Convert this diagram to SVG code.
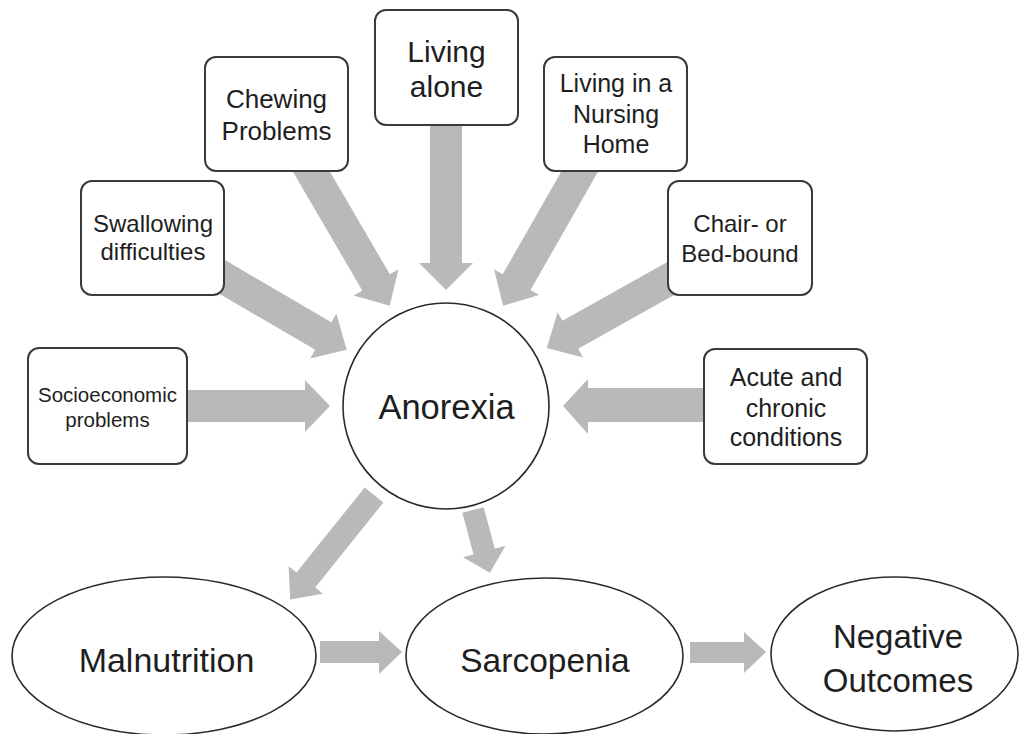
<svg xmlns="http://www.w3.org/2000/svg" width="1019" height="734" viewBox="0 0 1019 734">
<style>
.box{fill:#fff;stroke:#3a3a3a;stroke-width:2}
.ell{fill:#fff;stroke:#2a2a2a;stroke-width:1.6}
.arr{fill:#b9b9b9}
text{font-family:"Liberation Sans","Open Sans",sans-serif;fill:#1e1e1e;text-anchor:middle}
</style>
<rect width="1019" height="734" fill="#fff"/>
<g id="connectors">
<polygon class="arr" points="187,390 305,390 305,380 330,406 305,432 305,422 187,422"/>
<polygon class="arr" points="704,388 588,388 588,379 563,406 588,434 588,422 704,422"/>
<polygon class="arr" transform="translate(446,125) rotate(90)" points="-10,-16 138,-16 138,-27 165,0 138,27 138,16 -10,16"/>
<polygon class="arr" transform="translate(311,171) rotate(59.7)" points="-20,-16 129,-16 129,-26 156,0 129,26 129,16 -20,16"/>
<polygon class="arr" transform="translate(580,171) rotate(119.7)" points="-20,-16 128,-16 128,-26 155,0 128,26 128,16 -20,16"/>
<polygon class="arr" transform="translate(224,278) rotate(30.3)" points="-20,-16 115,-16 115,-26 142,0 115,26 115,16 -20,16"/>
<polygon class="arr" transform="translate(668,280) rotate(150.7)" points="-20,-16 112,-16 112,-26 139,0 112,26 112,16 -20,16"/>
<polygon class="arr" transform="translate(374,495) rotate(128.7)" points="0,-12 109,-12 109,-22 134,0 109,22 109,12 0,12"/>
<polygon class="arr" transform="translate(473,510) rotate(74.9)" points="0,-11 43,-11 43,-22 65,0 43,22 43,11 0,11"/>
<polygon class="arr" points="320,641 379,641 379,631 402,652 379,674 379,663 320,663"/>
<polygon class="arr" points="690,642 744,642 744,632 766,652 744,673 744,663 690,663"/>
</g>
<g id="living-alone"><rect class="box" x="375" y="10" width="143" height="115" rx="11"/><text font-size="30"><tspan x="446.5" y="62">Living</tspan><tspan x="446.5" y="97">alone</tspan></text></g>
<g id="chewing"><rect class="box" x="205" y="57" width="143" height="114" rx="11"/><text font-size="26"><tspan x="276.5" y="108">Chewing</tspan><tspan x="276.5" y="140">Problems</tspan></text></g>
<g id="swallowing"><rect class="box" x="81" y="181" width="143" height="114" rx="11"/><text font-size="24"><tspan x="153" y="232">Swallowing</tspan><tspan x="153" y="260">difficulties</tspan></text></g>
<g id="nursing-home"><rect class="box" x="544" y="57" width="143" height="114" rx="11"/><text font-size="25"><tspan x="616" y="92">Living in a</tspan><tspan x="616" y="123">Nursing</tspan><tspan x="616" y="153">Home</tspan></text></g>
<g id="chair-bed"><rect class="box" x="668" y="181" width="144" height="114" rx="11"/><text font-size="24"><tspan x="740" y="232">Chair- or</tspan><tspan x="740" y="262">Bed-bound</tspan></text></g>
<g id="socioeconomic"><rect class="box" x="28" y="348" width="159" height="116" rx="11"/><text font-size="20.5"><tspan x="107.5" y="402">Socioeconomic</tspan><tspan x="107.5" y="427">problems</tspan></text></g>
<g id="acute-chronic"><rect class="box" x="704" y="349" width="163" height="115" rx="11"/><text font-size="25"><tspan x="786" y="386">Acute and</tspan><tspan x="786" y="417">chronic</tspan><tspan x="786" y="446">conditions</tspan></text></g>
<g id="anorexia"><circle class="ell" cx="446" cy="406" r="103"/><text font-size="34.5" x="446.5" y="419">Anorexia</text></g>
<g id="malnutrition"><ellipse class="ell" cx="164" cy="656" rx="152" ry="79"/><text font-size="34" x="166.5" y="672">Malnutrition</text></g>
<g id="sarcopenia"><ellipse class="ell" cx="544.5" cy="656" rx="138.5" ry="78"/><text font-size="33.5" x="545" y="672">Sarcopenia</text></g>
<g id="negative-outcomes"><ellipse class="ell" cx="894.5" cy="654" rx="123.5" ry="77"/><text font-size="33"><tspan x="898" y="648">Negative</tspan><tspan x="898" y="692">Outcomes</tspan></text></g>
</svg>
